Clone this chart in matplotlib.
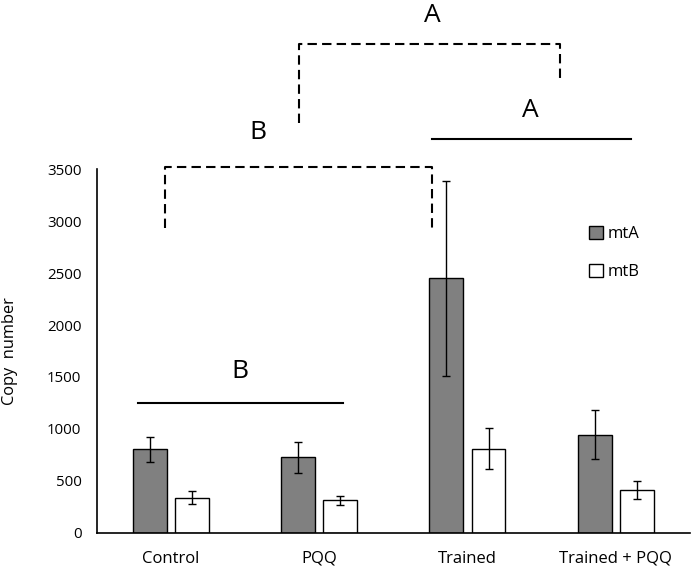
import numpy as np
import matplotlib
matplotlib.use("Agg")
import matplotlib.pyplot as plt

plt.rcParams['font.family'] = ['Open Sans', 'DejaVu Sans']

groups = ['Control', 'PQQ', 'Trained', 'Trained + PQQ']
mtA = [803, 726, 2450, 944]
mtA_err = [122, 148, 938, 236]
mtB = [337, 312, 809, 411]
mtB_err = [60, 46, 196, 83]

# significance brackets: (x0, x1, y_top, y_left_end, y_right_end)
dashed_brackets = [(-0.04, 1.764, 3518, 2931, 2931),
                   (0.863, 2.623, 4703, 3948, 4350)]
# solid lines: (x0, x1, y)
solid_lines = [(-0.22, 1.159, 1246), (1.764, 3.105, 3791)]
# letters: (x, y, text)
letters = [(0.464, 1550, 'B'), (0.587, 3852, 'B'),
           (2.426, 4070, 'A'), (1.762, 4985, 'A')]

fig = plt.figure(figsize=(6.92, 5.67), dpi=100)
ax = fig.add_axes([0.1397, 0.0605, 0.8573, 0.6409])

x = np.arange(len(groups))
w = 0.229
off = 0.142
ax.bar(x - off, mtA, w, color='#808080', edgecolor='black', linewidth=1,
       label='mtA', zorder=2)
ax.bar(x + off, mtB, w, color='white', edgecolor='black', linewidth=1,
       label='mtB', zorder=2)
ax.errorbar(x - off, mtA, yerr=mtA_err, fmt='none', ecolor='black',
            elinewidth=1, capsize=3, capthick=1, zorder=3)
ax.errorbar(x + off, mtB, yerr=mtB_err, fmt='none', ecolor='black',
            elinewidth=1, capsize=3, capthick=1, zorder=3)

for x0, x1, yt, yl, yr in dashed_brackets:
    ax.plot([x0, x0, x1, x1], [yl, yt, yt, yr], color='black', lw=1.5,
            ls=(0, (4.5, 2.5)), clip_on=False)
for x0, x1, y in solid_lines:
    ax.plot([x0, x1], [y, y], color='black', lw=1.5, clip_on=False)
for lx, ly, t in letters:
    ax.text(lx, ly, t, ha='center', va='center', fontsize=19,
            clip_on=False)

ax.set_xlim(-0.5, 3.5)
ax.set_ylim(0, 3500)
ax.set_yticks(np.arange(0, 3501, 500))
ax.set_xticks(x)
ax.set_xticklabels(groups, fontsize=12)
ax.tick_params(axis='y', length=0, labelsize=10.8, pad=11)
ax.tick_params(axis='x', length=0, pad=13)
ax.spines['top'].set_visible(False)
ax.spines['right'].set_visible(False)
ax.spines['left'].set_linewidth(1.2)
ax.spines['bottom'].set_linewidth(1.2)
ax.set_ylabel('Copy  number', fontsize=11.8)
ax.yaxis.set_label_coords(-0.132, 0.5)

ax.legend(loc='upper left', bbox_to_anchor=(0.805, 0.885), frameon=False,
          fontsize=12, handlelength=0.8, handleheight=0.8,
          handletextpad=0.3, labelspacing=1.3)

fig.savefig('out.png', dpi=100)
